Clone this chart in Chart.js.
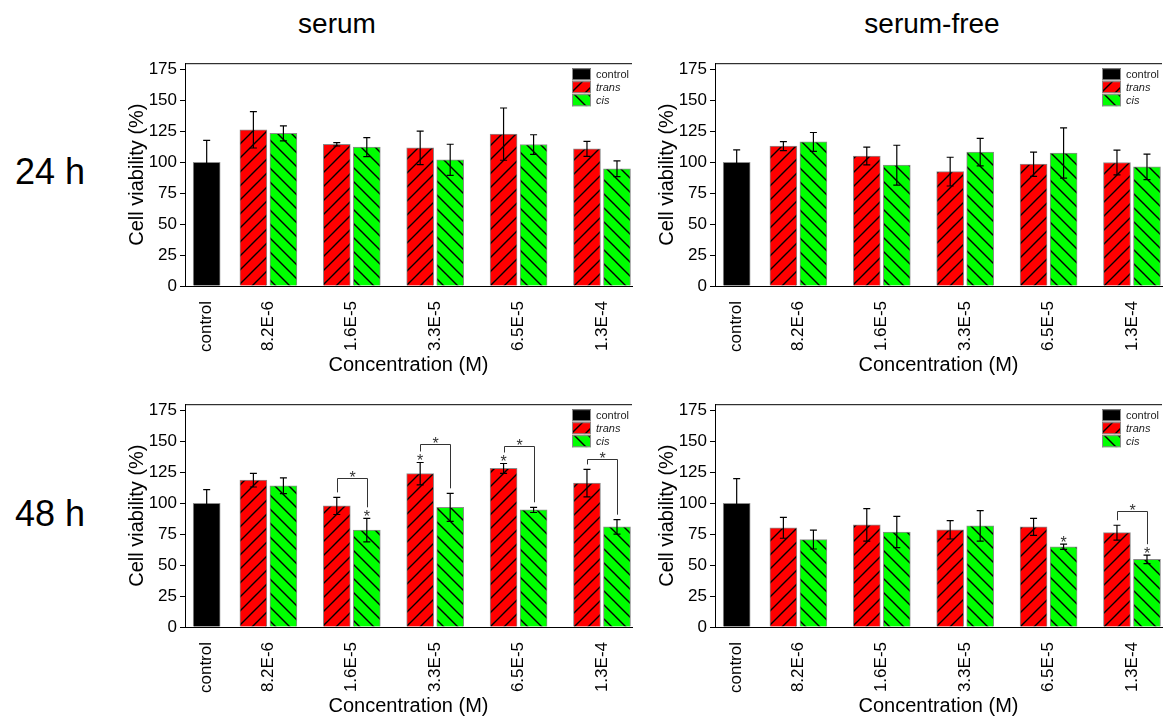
<!DOCTYPE html>
<html>
<head>
<meta charset="utf-8">
<title>Cell viability</title>
<script src="https://cdn.jsdelivr.net/npm/chart.js@4.4.1/dist/chart.umd.min.js"></script>
<style>
    html, body { margin: 0; padding: 0; background: #fff; overflow: hidden; }
    body { width: 1175px; height: 720px; position: relative; font-family: Arial, "Liberation Sans", sans-serif; }
    .lbl { position: absolute; font-size: 28px; color: #000; white-space: nowrap; transform: translate(-50%, -50%); }
    .row { font-size: 36px; }
    .panel { position: absolute; }
</style>
</head>
<body>
<div class="lbl" style="left:337px; top:24px">serum</div>
<div class="lbl" style="left:932px; top:24px">serum-free</div>
<div class="lbl row" style="left:50px; top:172px">24 h</div>
<div class="lbl row" style="left:50px; top:514px">48 h</div>

<canvas class="panel" id="c24s" width="535" height="328" style="left:110px; top:50px"></canvas>
<canvas class="panel" id="c24f" width="535" height="328" style="left:640px; top:50px"></canvas>
<canvas class="panel" id="c48s" width="535" height="328" style="left:110px; top:391px"></canvas>
<canvas class="panel" id="c48f" width="535" height="328" style="left:640px; top:391px"></canvas>

<script>
// Categories (control first, then the concentrations) and where they sit on the x axis
const categories = ['control', '8.2E-6', '1.6E-5', '3.3E-5', '6.5E-5', '1.3E-4'];
const xSlots = [0.26, 1, 2, 3, 4, 5];

// 24 h, serum
const ctrl24s = 100, ctrl24sErr = 17.7;
const trans24s = [126.2, 114.5, 111.6, 122.7, 110.8];
const trans24sErr = [14.7, 1.4, 13.5, 21.1, 6.1];
const cis24s = [123.3, 112.2, 101.9, 114.3, 94.7];
const cis24sErr = [6.0, 7.6, 12.6, 7.9, 6.4];

// 24 h, serum-free
const ctrl24f = 100, ctrl24fErr = 10;
const trans24f = [113.0, 105.0, 92.4, 98.4, 99.8];
const trans24fErr = [3.7, 7.2, 11.6, 9.8, 10.0];
const cis24f = [116.4, 97.6, 108.2, 107.4, 96.3];
const cis24fErr = [7.6, 16.1, 11.1, 20.3, 10.3];

// 48 h, serum
const ctrl48s = 100, ctrl48sErr = 11;
const trans48s = [118.6, 97.8, 123.9, 128.1, 116.2];
const trans48sErr = [5.5, 6.9, 9.0, 4.0, 11.1];
const cis48s = [114.1, 78.3, 96.7, 94.6, 80.9];
const cis48sErr = [6.3, 9.5, 11.3, 2.1, 5.8];

// 48 h, serum-free
const ctrl48f = 100, ctrl48fErr = 19.8;
const trans48f = [80.1, 82.5, 78.5, 80.9, 76.2];
const trans48fErr = [8.4, 13.2, 7.4, 6.9, 6.0];
const cis48f = [70.6, 76.7, 81.7, 64.8, 54.6];
const cis48fErr = [7.6, 12.6, 12.4, 2.1, 3.4];

// significance: [category index, bracket height %] and [category index, series]
const brackets48s = [[2, 120], [3, 147.5], [4, 146], [5, 135.5]];
const stars48s = [[2, 'cis'], [3, 'trans'], [4, 'trans']];
const brackets48f = [[5, 94]];
const stars48f = [[4, 'cis'], [5, 'cis']];

const PAIR_OFFSET = 0.18;
const FONT = 'Arial, "Liberation Sans", sans-serif';

Chart.defaults.font.family = FONT;
Chart.defaults.color = '#000';

function makeHatch(color, dir) {
    const s = 14;
    const c = document.createElement('canvas');
    c.width = s;
    c.height = s;
    const g = c.getContext('2d');
    g.fillStyle = color;
    g.fillRect(0, 0, s, s);
    g.strokeStyle = '#000';
    g.lineWidth = 1.4;
    g.beginPath();
    if (dir > 0) {
        g.moveTo(-1, s + 1); g.lineTo(s + 1, -1);
        g.moveTo(-1, 1); g.lineTo(1, -1);
        g.moveTo(s - 1, s + 1); g.lineTo(s + 1, s - 1);
    } else {
        g.moveTo(-1, -1); g.lineTo(s + 1, s + 1);
        g.moveTo(s - 1, -1); g.lineTo(s + 1, 1);
        g.moveTo(-1, s - 1); g.lineTo(1, s + 1);
    }
    g.stroke();
    return g.createPattern(c, 'repeat');
}

const transFill = makeHatch('#ff0000', 1);
const cisFill = makeHatch('#00ff00', -1);

// line on top of the plot box
const topFrame = {
    id: 'topFrame',
    beforeDatasetsDraw(chart) {
        const { ctx, chartArea: a } = chart;
        ctx.save();
        ctx.strokeStyle = '#000';
        ctx.lineWidth = 1;
        ctx.beginPath();
        ctx.moveTo(a.left, a.top + 0.5);
        ctx.lineTo(a.right, a.top + 0.5);
        ctx.stroke();
        ctx.restore();
    }
};

const errorBars = {
    id: 'errorBars',
    afterDatasetsDraw(chart) {
        const { ctx } = chart;
        const y = chart.scales.y;
        ctx.save();
        ctx.strokeStyle = '#000';
        ctx.lineWidth = 1.2;
        chart.data.datasets.forEach((ds, i) => {
            chart.getDatasetMeta(i).data.forEach((bar, j) => {
                const v = ds.data[j].y, e = ds.errors[j];
                const top = y.getPixelForValue(v + e);
                const bot = y.getPixelForValue(v - e);
                ctx.beginPath();
                ctx.moveTo(bar.x, top); ctx.lineTo(bar.x, bot);
                ctx.moveTo(bar.x - 3.5, top); ctx.lineTo(bar.x + 3.5, top);
                ctx.moveTo(bar.x - 3.5, bot); ctx.lineTo(bar.x + 3.5, bot);
                ctx.stroke();
            });
        });
        ctx.restore();
    }
};

function makeSignif(brackets, stars) {
    return {
        id: 'signif',
        afterDatasetsDraw(chart) {
            const { ctx } = chart;
            const y = chart.scales.y;
            const series = { trans: 1, cis: 2 };
            const errTop = (s, k) => {
                const ds = chart.data.datasets[series[s]];
                return y.getPixelForValue(ds.data[k].y + ds.errors[k]);
            };
            const barX = (s, k) => chart.getDatasetMeta(series[s]).data[k].x;
            const hasStar = (g, s) => stars.some(([sg, ss]) => sg === g && ss === s);

            ctx.save();
            ctx.fillStyle = '#333';
            ctx.strokeStyle = '#333';
            ctx.lineWidth = 1;
            ctx.font = '16px ' + FONT;
            ctx.textAlign = 'center';
            ctx.textBaseline = 'alphabetic';

            stars.forEach(([g, s]) => {
                ctx.fillText('*', barX(s, g - 1), errTop(s, g - 1) - 5 + 9);
            });

            brackets.forEach(([g, level]) => {
                const k = g - 1;
                const yb = Math.round(y.getPixelForValue(level)) + 0.5;
                const xl = Math.round(barX('trans', k)) + 0.5;
                const xr = Math.round(barX('cis', k)) + 0.5;
                const yl = errTop('trans', k) - (hasStar(g, 'trans') ? 11 : 5);
                const yr = errTop('cis', k) - (hasStar(g, 'cis') ? 11 : 5);
                ctx.beginPath();
                ctx.moveTo(xl, yl);
                ctx.lineTo(xl, yb);
                ctx.lineTo(xr, yb);
                ctx.lineTo(xr, yr);
                ctx.stroke();
                ctx.fillText('*', (xl + xr) / 2, yb - 5 + 9);
            });
            ctx.restore();
        }
    };
}

const hatchLegend = {
    id: 'hatchLegend',
    afterDraw(chart) {
        const { ctx, chartArea } = chart;
        const x0 = chartArea.left + 387, y0 = chartArea.top + 5;
        ctx.save();
        chart.data.datasets.forEach((ds, i) => {
            const y = y0 + i * 13;
            ctx.fillStyle = ds.backgroundColor;
            ctx.fillRect(x0, y, 19, 12);
            ctx.strokeStyle = '#8c8c8c';
            ctx.lineWidth = 1;
            ctx.strokeRect(x0 + 0.5, y + 0.5, 18, 11);
            ctx.fillStyle = '#222';
            // trans / cis are italic
            ctx.font = (i > 0 ? 'italic ' : '') + '11px ' + FONT;
            ctx.textBaseline = 'middle';
            ctx.textAlign = 'left';
            ctx.fillText(ds.label, x0 + 24, y + 6.5);
        });
        ctx.restore();
    }
};

function makePanel(id, ctrl, ctrlErr, trans, transErr, cis, cisErr, brackets, stars) {
    const datasets = [
        {
            label: 'control',
            data: [{ x: xSlots[0], y: ctrl }],
            errors: [ctrlErr],
            backgroundColor: '#000000'
        },
        {
            label: 'trans',
            data: trans.map((v, i) => ({ x: xSlots[i + 1] - PAIR_OFFSET, y: v })),
            errors: transErr,
            backgroundColor: transFill
        },
        {
            label: 'cis',
            data: cis.map((v, i) => ({ x: xSlots[i + 1] + PAIR_OFFSET, y: v })),
            errors: cisErr,
            backgroundColor: cisFill
        }
    ];

    return new Chart(document.getElementById(id), {
        type: 'bar',
        data: { datasets },
        options: {
            responsive: false,
            animation: false,
            layout: { padding: { top: 8, right: 13, bottom: 0, left: 0 } },
            datasets: {
                bar: { grouped: false, barThickness: 27, borderColor: '#8c8c8c', borderWidth: 1 }
            },
            plugins: {
                legend: { display: false },
                tooltip: { enabled: false }
            },
            scales: {
                x: {
                    type: 'linear',
                    min: 0,
                    max: 5.36,
                    offset: false,
                    afterBuildTicks: (s) => { s.ticks = xSlots.map(v => ({ value: v })); },
                    afterFit: (s) => { s.height = 92; },
                    grid: { display: false },
                    border: { color: '#000' },
                    ticks: {
                        autoSkip: false,
                        minRotation: 90,
                        maxRotation: 90,
                        padding: 7,
                        font: { size: 17 },
                        callback: (v, i) => categories[i]
                    },
                    title: {
                        display: true,
                        text: 'Concentration (M)',
                        font: { size: 20 },
                        padding: { top: 0, bottom: 1 }
                    }
                },
                y: {
                    min: 0,
                    max: 180,
                    afterFit: (s) => { s.width = 75; },
                    ticks: { stepSize: 25, includeBounds: false, padding: 3, font: { size: 17 } },
                    grid: { drawOnChartArea: false, tickLength: 5, color: '#000' },
                    border: { color: '#000' },
                    title: {
                        display: true,
                        text: 'Cell viability (%)',
                        font: { size: 20 },
                        padding: { top: 15, bottom: 0 }
                    }
                }
            }
        },
        plugins: [topFrame, errorBars, makeSignif(brackets, stars), hatchLegend]
    });
}

makePanel('c24s', ctrl24s, ctrl24sErr, trans24s, trans24sErr, cis24s, cis24sErr, [], []);
makePanel('c24f', ctrl24f, ctrl24fErr, trans24f, trans24fErr, cis24f, cis24fErr, [], []);
makePanel('c48s', ctrl48s, ctrl48sErr, trans48s, trans48sErr, cis48s, cis48sErr, brackets48s, stars48s);
makePanel('c48f', ctrl48f, ctrl48fErr, trans48f, trans48fErr, cis48f, cis48fErr, brackets48f, stars48f);
</script>
</body>
</html>
